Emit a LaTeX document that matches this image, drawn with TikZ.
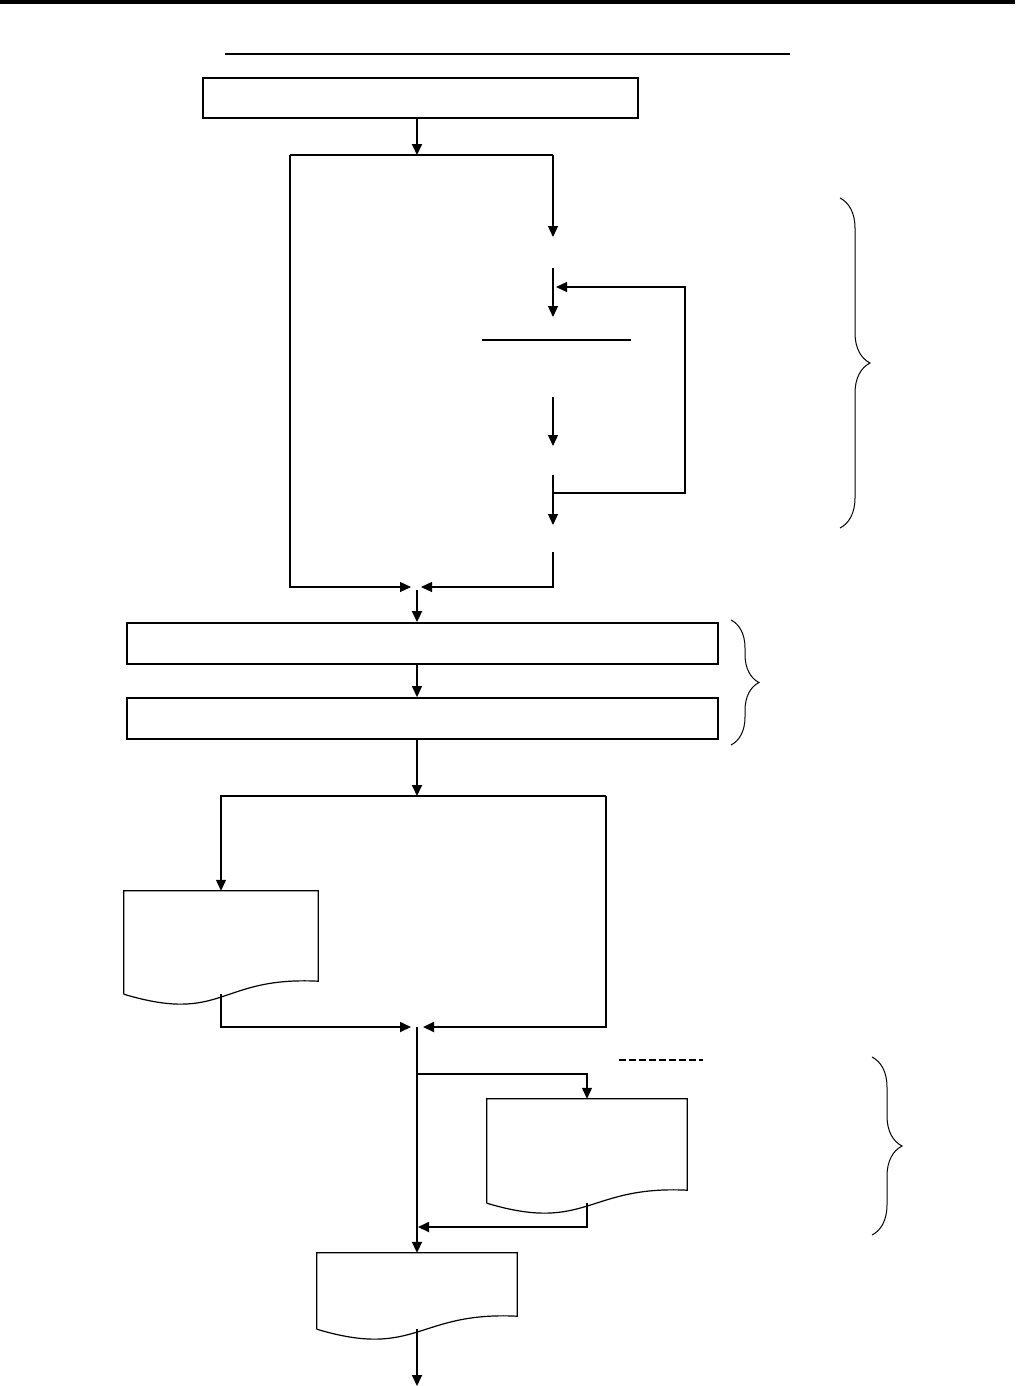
\documentclass[tikz,border=0pt]{standalone}
\usepackage{tikz}
\usetikzlibrary{positioning,arrows.meta,decorations.pathreplacing}
\tikzset{
	arr/.style={-{Triangle[length=11pt,width=10pt]}},
	thinl/.style={line width=1.2pt},
	thickl/.style={line width=1.8pt},
	boxnode/.style={draw,line width=1.8pt,inner sep=0pt},
	docnode/.style={inner sep=0pt},
	bracel/.style={line width=1pt,decorate,decoration={brace,amplitude=30pt}}
}
\begin{document}
\begin{tikzpicture}[x=1pt,y=-1pt]
		\useasboundingbox[fill=white] (0,0) rectangle (1015,1386);
		%Top rule and title line
		\fill (0,0) rectangle (1015,4);
		\draw[line width=1.6pt] (225,54)--(790,54);
		%Boxes
		\node[boxnode,minimum width=435,minimum height=40] (A) at (420.5,98) {};
		\node[boxnode,minimum width=591,minimum height=41] (B) at (422.5,643.5) {};
		\node[boxnode,minimum width=591,minimum height=41] (C) at (422.5,718.5) {};
		%Documents
		\node[docnode,minimum width=194,minimum height=103] (d1) at (221,942.5) {};
		\node[docnode,minimum width=200,minimum height=104] (d2) at (587,1151) {};
		\node[docnode,minimum width=200,minimum height=76] (d3) at (417,1291) {};
		\foreach \d in {d1,d2,d3}
		\draw[thinl] (\d.south west)--(\d.north west)--(\d.north east)--([yshift=13pt]\d.south east)
			.. controls +(-100,-5) and +(100,30) .. (\d.south west);
		%Upper loop
		\coordinate (top) at (417,155);
		\coordinate (tl) at (290,155);
		\coordinate (tr) at (553,155);
		\coordinate (lb) at (290,587);
		\coordinate (mg) at (417,587);
		\coordinate (r1) at (553,237);
		\coordinate (r2a) at (553,268);
		\coordinate (r2b) at (553,317);
		\coordinate (r3a) at (553,397);
		\coordinate (r3b) at (553,446);
		\coordinate (r4a) at (553,475);
		\coordinate (r4b) at (553,525);
		\coordinate (r5) at (553,552);
		\coordinate (fb) at (553,493);
		\coordinate (fc) at (685,287);
		\coordinate (fd) at (556,287);
		\draw[thickl,arr] (A.south -| top)--(top);
		\draw[thinl] (tl)--(tr);
		\draw[thinl,arr] (tr)--(r1);
		\draw[thinl,arr] (r2a)--(r2b);
		\draw[thinl] (482,340)--(631,340);
		\draw[thinl,arr] (r3a)--(r3b);
		\draw[thinl,arr] (r4a)--(r4b);
		\draw[thinl,arr] (fb)-|(fc)--(fd);
		\draw[thinl,arr] (tl)--(lb)--([xshift=-6pt]mg);
		\draw[thinl,arr] (r5)|-([xshift=4pt]mg);
		\draw[thickl,arr] ([yshift=-3pt]mg)--(B.north -| mg);
		\draw[thinl,arr] (B.south -| mg)--(C.north -| mg);
		%Lower part
		\coordinate (sp) at (417,796);
		\coordinate (sr) at (606,796);
		\coordinate (mg2) at (417,1027);
		\coordinate (br) at (417,1074);
		\coordinate (mg3) at (417,1227);
		\draw[thickl,arr] (C.south -| sp)--(sp);
		\draw[thinl,arr] (sr)-|(d1.north);
		\draw[thickl,arr] (d1.south)|-([xshift=-6pt]mg2);
		\draw[thickl,arr] (sr)|-([xshift=6pt]mg2);
		\draw[thickl,arr] (mg2)--(d3.north);
		\draw[thinl,arr] (br)-|(d2.north);
		\draw[thickl,arr] (d2.south)|-([xshift=1pt]mg3);
		\draw[thickl,arr] (d3.south)--(417,1386);
		\draw[line width=1.5pt,dash pattern=on 7pt off 3pt] (619,1060)--(703,1060);
		%Braces
		\draw[bracel] (840,198)--(840,528);
		\draw[bracel,decoration={amplitude=28pt}] (731,620)--(731,745);
		\draw[bracel] (872,1057)--(872,1235);
		\end{tikzpicture}
\end{document}
